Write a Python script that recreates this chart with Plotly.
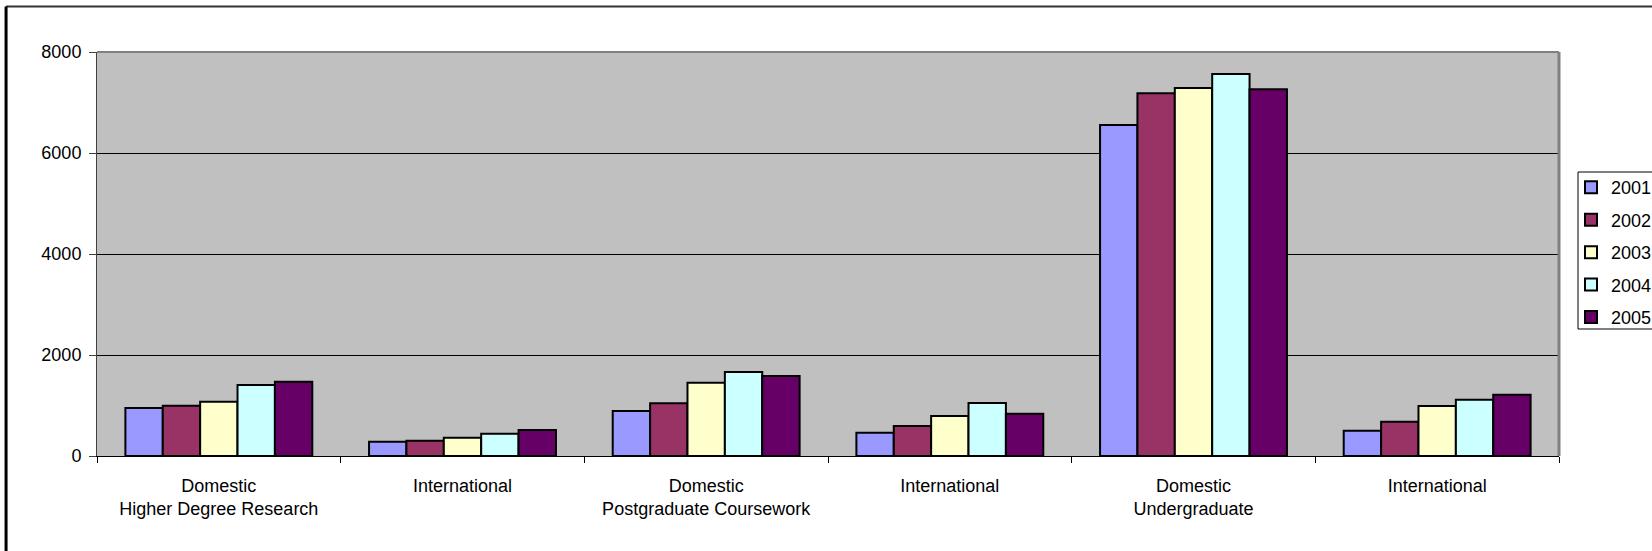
import plotly.graph_objects as go

# data
cat_keys = ["hdr_dom", "hdr_int", "pgc_dom", "pgc_int", "ug_dom", "ug_int"]
cat_labels = ["Domestic<br>Higher Degree Research", "International",
              "Domestic<br>Postgraduate Coursework", "International",
              "Domestic<br>Undergraduate", "International"]
years = ["2001", "2002", "2003", "2004", "2005"]
v2001 = [950, 283, 891, 462, 6554, 501]
v2002 = [996, 303, 1043, 594, 7182, 680]
v2003 = [1075, 362, 1452, 792, 7287, 990]
v2004 = [1406, 442, 1663, 1050, 7564, 1115]
v2005 = [1471, 515, 1584, 838, 7261, 1214]
colors = ["#9999FF", "#993366", "#FFFFCC", "#CCFFFF", "#660066"]

series = [v2001, v2002, v2003, v2004, v2005]
font = "Liberation Sans, Arial, sans-serif"

fig = go.Figure()
for yr, vals, col in zip(years, series, colors):
    fig.add_trace(go.Bar(
        x=cat_keys, y=vals, name=yr, legendgroup=yr,
        marker=dict(color=col, line=dict(color="black", width=2)),
    ))

fig.update_layout(
    width=1652, height=551,
    margin=dict(l=97, r=93, t=52, b=95, autoexpand=False),
    paper_bgcolor="white",
    plot_bgcolor="#C0C0C0",
    font=dict(family=font, size=18, color="black"),
    barmode="group",
    bargap=0.233,
    bargroupgap=0,
    legend=dict(
        x=1.0082, xanchor="left", y=0.71, yanchor="top",
        bgcolor="rgba(0,0,0,0)", borderwidth=0,
        tracegroupgap=6, font=dict(size=18),
        itemclick=False,
    ),
    showlegend=True,
)

fig.update_xaxes(
    type="category", tickmode="array", tickvals=cat_keys, ticktext=cat_labels,
    tickson="boundaries", ticks="outside", ticklen=6, tickcolor="black",
    showline=True, linecolor="black", linewidth=1,
    showgrid=False, ticklabelstandoff=13,
)
fig.update_yaxes(
    range=[0, 8000], tickvals=[0, 2000, 4000, 6000, 8000],
    ticks="outside", ticklen=7, tickcolor="#404040",
    showline=True, linecolor="#404040", linewidth=1,
    showgrid=True, gridcolor="black", gridwidth=1,
    zeroline=False, ticklabelstandoff=4,
)

# plot area top/right border, outer chart frame, legend box
fig.add_shape(type="line", xref="paper", yref="paper", x0=0, x1=1, y0=1, y1=1,
              line=dict(color="#808080", width=2))
fig.add_shape(type="line", xref="paper", yref="paper", x0=1, x1=1, y0=0, y1=1,
              line=dict(color="#808080", width=3))
fig.add_shape(type="line", xref="paper", yref="paper", x0=-0.0622, x1=1.2,
              y0=1.1126, y1=1.1126, line=dict(color="#333333", width=2))
fig.add_shape(type="line", xref="paper", yref="paper", x0=-0.0622, x1=-0.0622,
              y0=-0.3, y1=1.1126, line=dict(color="black", width=3))
fig.add_shape(type="rect", xref="paper", yref="paper",
              x0=(1578 - 97) / 1462, x1=(1662 - 97) / 1462,
              y0=(456 - 329) / 404, y1=(456 - 172) / 404,
              line=dict(color="black", width=1), fillcolor="white", layer="below")

# page body has a default 8px margin; drop it so the figure sits at 0,0
fig.write_html("out.html", config={"displayModeBar": False},
               post_script="document.body.style.margin='0';")
